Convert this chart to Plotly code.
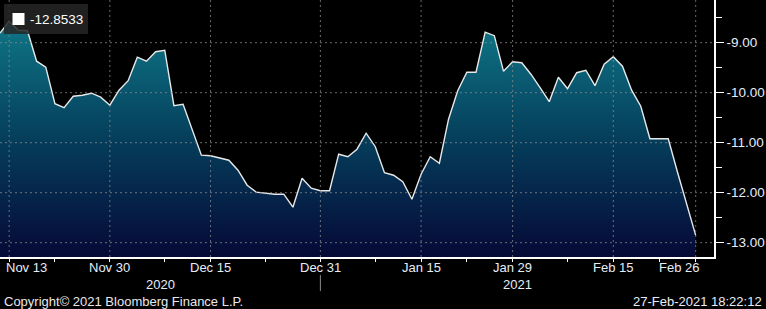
import pandas as pd
import plotly.graph_objects as go

# ---------------- data ----------------
dates = [d.strftime("%Y-%m-%d") for d in pd.bdate_range("2020-11-12", "2021-02-26")]
values = [
    -8.81, -8.57, -8.75, -8.76, -9.37, -9.49, -10.22, -10.30, -10.07, -10.05,
    -10.01, -10.09, -10.25, -9.95, -9.76, -9.29, -9.37, -9.18, -9.15, -10.26,
    -10.23, -10.74, -11.25, -11.26, -11.31, -11.35, -11.55, -11.85, -11.99, -12.01,
    -12.03, -12.03, -12.29, -11.71, -11.91, -11.96, -11.96, -11.23, -11.28, -11.13,
    -10.81, -11.08, -11.60, -11.65, -11.78, -12.13, -11.63, -11.28, -11.41, -10.53,
    -9.96, -9.59, -9.59, -8.79, -8.86, -9.57, -9.38, -9.40, -9.63, -9.90,
    -10.18, -9.69, -9.92, -9.60, -9.55, -9.86, -9.43, -9.28, -9.47, -9.95,
    -10.27, -10.92, -10.92, -10.92, -11.58, -12.22, -12.8533,
]
x_tick_vals = ["2020-11-13", "2020-11-30", "2020-12-15", "2020-12-31",
               "2021-01-15", "2021-01-29", "2021-02-15", "2021-02-26"]
x_tick_text = ["Nov 13", "Nov 30", "Dec 15", "Dec 31", "Jan 15", "Jan 29", "Feb 15", "Feb 26"]
x_minor_vals = ["2020-11-20", "2020-12-08", "2020-12-23", "2021-01-08",
                "2021-01-22", "2021-02-08", "2021-02-22"]
y_tick_vals = [-13, -12, -11, -10, -9]
y_tick_text = ["-13.00", "-12.00", "-11.00", "-10.00", "-9.00"]
y_minor_vals = [-12.5, -11.5, -10.5, -9.5, -8.5]
year_labels = ["2020", "2021"]
copyright_text = "Copyright\u00a9 2021 Bloomberg Finance L.P."
timestamp_text = "27-Feb-2021 18:22:12"

# ---------------- layout constants ----------------
W, H = 766, 309
PW, PH = 714, 257          # plot area size in px
Y_RANGE = [-13.286, -8.146]
FONT = "Liberation Sans"
LABEL_COL = "#e6edf7"

def px(xp):
    return xp / PW

def py(yp):
    return 1 - yp / PH

fig = go.Figure()

# baseline for the gradient fill
fig.add_trace(go.Scatter(x=dates, y=[Y_RANGE[0] - 1] * len(dates), mode="lines",
                         line=dict(width=0), hoverinfo="skip", showlegend=False))
fig.add_trace(go.Scatter(
    x=dates, y=values, mode="lines", fill="tonexty",
    line=dict(color="#e8e8e8", width=1.4),
    fillgradient=dict(type="vertical",
                      colorscale=[[0, "#050936"], [0.5, "#053f5c"], [1, "#0f7888"]],
                      start=Y_RANGE[0], stop=-8.5),
    showlegend=False,
))

# right-axis triangle pointers
fig.add_trace(go.Scatter(x=[PW + 3.5] * len(y_tick_vals), y=y_tick_vals, xaxis="x2",
                         mode="markers", cliponaxis=False, hoverinfo="skip",
                         marker=dict(symbol="triangle-right", size=8, color="white"),
                         showlegend=False))

shapes = []
grid = dict(color="rgba(140,140,140,0.75)", width=1, dash="2px,3px")
for v in y_tick_vals:
    shapes.append(dict(type="line", xref="paper", yref="y", x0=0, x1=1, y0=v, y1=v,
                       line=grid, layer="above"))
for d in x_tick_vals:
    shapes.append(dict(type="line", xref="x", yref="paper", x0=d, x1=d, y0=0, y1=1,
                       line=grid, layer="above"))
# year separator
shapes.append(dict(type="line", xref="x", yref="paper", x0="2020-12-31", x1="2020-12-31",
                   y0=py(291), y1=py(275), line=dict(color="#8a8a8a", width=1)))
# legend box
shapes.append(dict(type="rect", xref="paper", yref="paper", x0=px(4), x1=px(88),
                   y0=py(34), y1=py(4), fillcolor="rgba(38,38,38,0.85)",
                   line=dict(width=0), layer="above"))
shapes.append(dict(type="rect", xref="paper", yref="paper", x0=px(12.5), x1=px(24.5),
                   y0=py(25), y1=py(13), fillcolor="white",
                   line=dict(width=0), layer="above"))

DATE_Y = 267.5
annotations = [
    dict(text=f"{values[-1]:.4f}", xref="paper", yref="paper", x=px(28), y=py(19.5),
         xanchor="left", yanchor="middle", showarrow=False,
         font=dict(family=FONT, size=13.5, color="white")),
    dict(text=year_labels[0], xref="paper", yref="paper", x=px(160), y=py(284.5),
         xanchor="center", yanchor="middle", showarrow=False,
         font=dict(family=FONT, size=13, color=LABEL_COL)),
    dict(text=year_labels[1], xref="paper", yref="paper", x=px(517), y=py(284.5),
         xanchor="center", yanchor="middle", showarrow=False,
         font=dict(family=FONT, size=13, color=LABEL_COL)),
    dict(text=copyright_text, xref="paper", yref="paper", x=px(2), y=py(301),
         xanchor="left", yanchor="middle", showarrow=False,
         font=dict(family=FONT, size=13, color="#e8e8e8")),
    dict(text=timestamp_text, xref="paper", yref="paper", x=px(764), y=py(301),
         xanchor="right", yanchor="middle", showarrow=False,
         font=dict(family=FONT, size=13, color=LABEL_COL)),
]
# date labels as annotations (edge ones clamped inside the chart like the original)
for i, (d, t) in enumerate(zip(x_tick_vals, x_tick_text)):
    if i == 0:
        anchor, shift = "left", -5
    elif i == len(x_tick_vals) - 1:
        anchor, shift = "right", 5
    else:
        anchor, shift = "center", 0
    annotations.append(dict(text=t, xref="x", yref="paper", x=d, y=py(DATE_Y),
                            xanchor=anchor, yanchor="middle", xshift=shift, showarrow=False,
                            font=dict(family=FONT, size=13, color=LABEL_COL)))

fig.update_layout(
    width=W, height=H, margin=dict(l=0, r=W - PW, t=0, b=H - PH, pad=0),
    paper_bgcolor="black", plot_bgcolor="black", showlegend=False,
    xaxis=dict(
        type="date", range=["2020-11-12", "2021-03-02"],
        rangebreaks=[dict(bounds=["sat", "mon"])],
        tickmode="array", tickvals=x_tick_vals, ticktext=[""] * len(x_tick_vals),
        ticks="outside", ticklen=3, tickwidth=1, tickcolor="white",
        showline=True, linecolor="white", linewidth=1.5,
        showgrid=False, zeroline=False,
        tickfont=dict(family=FONT, size=13, color=LABEL_COL),
        minor=dict(tickmode="array", tickvals=x_minor_vals, ticks="outside",
                   ticklen=3, tickwidth=1, tickcolor="white", showgrid=False),
    ),
    xaxis2=dict(overlaying="x", range=[0, PW], visible=False, anchor="y"),
    yaxis=dict(
        side="right", range=Y_RANGE,
        tickmode="array", tickvals=y_tick_vals, ticktext=y_tick_text,
        ticks="outside", ticklen=8, tickwidth=1, tickcolor="white",
        showline=True, linecolor="white", linewidth=1.5,
        showgrid=False, zeroline=False,
        tickfont=dict(family=FONT, size=13.5, color=LABEL_COL),
        minor=dict(tickmode="array", tickvals=y_minor_vals, ticks="outside",
                   ticklen=6, tickwidth=1, tickcolor="white", showgrid=False),
    ),
    shapes=shapes, annotations=annotations,
)

fig.write_html("out.html")
